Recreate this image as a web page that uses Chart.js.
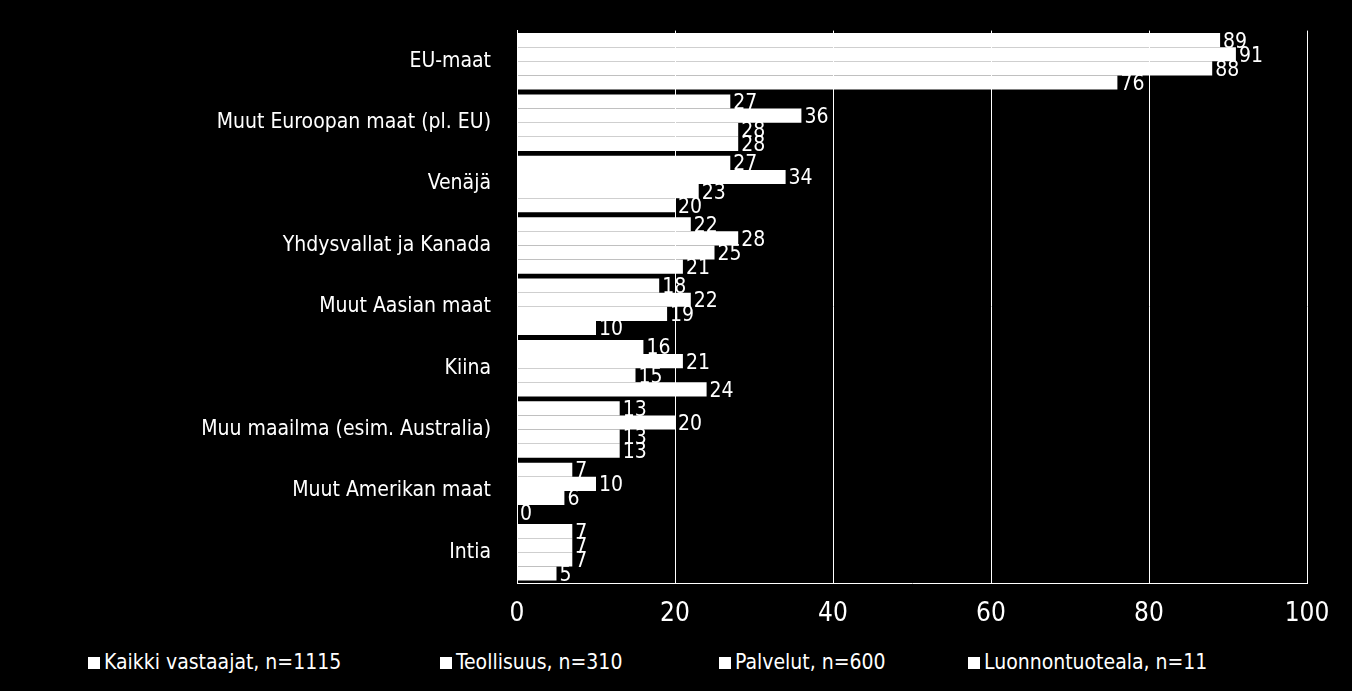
<!DOCTYPE html>
<html lang="fi">
<head>
<meta charset="UTF-8">
<title>Markkina-alueet</title>
<script src="https://cdn.jsdelivr.net/npm/chart.js@4.4.1/dist/chart.umd.min.js"></script>
<style>
    html, body { margin: 0; padding: 0; background: #000; }
    #wrap { position: relative; width: 1352px; height: 640px; }
    #legend { position: absolute; top: 650px; left: 0; width: 1352px; height: 30px;
        font-family: 'DejaVu Sans Condensed', 'DejaVu Sans', sans-serif; font-size: 21px; color: #fff; }
    #legend span { position: absolute; top: 0; white-space: nowrap; }
    #legend i { display: inline-block; width: 12px; height: 12px; background: #fff; margin-right: 4px; }
</style>
</head>
<body>
<div id="wrap"><canvas id="chart"></canvas></div>
<div id="legend"></div>
<script>
const categories = ['EU-maat', 'Muut Euroopan maat (pl. EU)', 'Venäjä', 'Yhdysvallat ja Kanada',
    'Muut Aasian maat', 'Kiina', 'Muu maailma (esim. Australia)', 'Muut Amerikan maat', 'Intia'];
const seriesNames = ['Kaikki vastaajat, n=1115', 'Teollisuus, n=310', 'Palvelut, n=600', 'Luonnontuoteala, n=11'];
const kaikki = [89, 27, 27, 22, 18, 16, 13, 7, 7];
const teollisuus = [91, 36, 34, 28, 22, 21, 20, 10, 7];
const palvelut = [88, 28, 23, 25, 19, 15, 13, 6, 7];
const luonnontuote = [76, 28, 20, 21, 10, 24, 13, 0, 5];
const xTicks = [0, 20, 40, 60, 80, 100];

const font = "'DejaVu Sans Condensed', 'DejaVu Sans', sans-serif";

// value labels to the right of each bar
const valueLabels = {
    id: 'valueLabels',
    afterDatasetsDraw(chart) {
        const ctx = chart.ctx;
        ctx.save();
        ctx.fillStyle = '#fff';
        ctx.font = '21px ' + font;
        ctx.textBaseline = 'middle';
        chart.data.datasets.forEach((ds, i) => {
            chart.getDatasetMeta(i).data.forEach((bar, j) => {
                ctx.fillText(ds.data[j], bar.x + 3, bar.y + 2);
            });
        });
        ctx.restore();
    }
};

const series = [kaikki, teollisuus, palvelut, luonnontuote];
new Chart(document.getElementById('chart'), {
    type: 'bar',
    data: {
        labels: categories,
        datasets: series.map((d, i) => ({
            label: seriesNames[i],
            data: d,
            backgroundColor: '#fff',
            borderWidth: 0,
            categoryPercentage: 0.92,
            barPercentage: 1.0
        }))
    },
    options: {
        indexAxis: 'y',
        responsive: true,
        maintainAspectRatio: false,
        animation: false,
        layout: { padding: { top: 8, right: 45, left: 0, bottom: 0 } },
        scales: {
            x: {
                min: 0, max: 100,
                afterBuildTicks(axis) { axis.ticks = xTicks.map(v => ({ value: v })); },
                afterFit(axis) { axis.height = 57; },
                grid: { color: '#fff', lineWidth: 1, drawTicks: false },
                border: { color: '#fff' },
                ticks: { color: '#fff', font: { family: font, size: 26 }, padding: 16 }
            },
            y: {
                afterFit(axis) { axis.width = 517; },
                grid: { display: false },
                border: { color: '#fff' },
                ticks: { color: '#fff', font: { family: font, size: 21 }, padding: 18 }
            }
        },
        plugins: {
            legend: { display: false },
            tooltip: { enabled: false }
        }
    },
    plugins: [valueLabels]
});

const legendX = [88, 440, 719, 968];
document.getElementById('legend').innerHTML = seriesNames
    .map((n, i) => '<span style="left:' + legendX[i] + 'px"><i></i>' + n + '</span>').join('');
</script>
</body>
</html>
